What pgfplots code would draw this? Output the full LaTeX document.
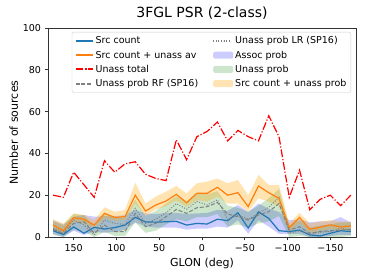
\documentclass[border=0pt]{standalone}
\usepackage{fontspec}
\setmainfont{DejaVu Sans}
\usepackage{pgfplots}
\pgfplotsset{compat=1.18}
\usepackage{pgfplotstable}
\usepgfplotslibrary{fillbetween}

\definecolor{mplblue}{HTML}{1F77B4}
\definecolor{mplorange}{HTML}{FF7F0E}
\definecolor{bandblue}{HTML}{0000FF}
\definecolor{bandgreen}{HTML}{008000}
\definecolor{bandorange}{HTML}{FFA500}
\definecolor{legframe}{HTML}{CCCCCC}

\pgfplotstableread{
x     red   ora   ou    ol    blue  bu    bl    dash  dot   gu    gl
174   20    5.7   8.5   3.5   3.0   8.0   1.5   3.7   4.2   7.5   1.0
162   19    3.0   6.5   1.4   1.2   6.0   0.0   1.8   2.6   5.5   0.0
150   31    9.2   11.3  7.3   4.8   9.7   3.0   6.5   8.1   11.0  3.5
138   25    8.5   10.5  6.5   1.8   10.5  1.0   7.3   5.7   10.5  2.5
126   19    5.7   8.1   4.1   4.6   9.7   2.5   1.8   1.0   5.0   0.0
114   36.5  11.3  14.2  8.9   3.8   10.0  2.0   5.7   8.1   11.0  2.5
102   31    9.4   12.1  7.8   4.5   10.0  2.5   2.6   6.5   9.5   0.5
90    35    9.7   12.9  8.1   5.7   10.5  3.5   2.6   6.0   9.0   0.5
78    36    20.0  26.0  16.0  9.4   13.0  7.0   11.3  13.7  18.0  7.0
66    30    12.4  16.0  10.0  7.2   11.3  5.0   4.9   6.5   10.0  2.0
54    28    15.3  19.3  13.2  7.1   11.0  4.5   6.5   8.5   12.5  3.0
42    27    17.2  21.7  14.8  7.3   11.5  4.5   9.7   11.6  16.0  6.0
30    46.5  20.4  24.4  17.4  7.5   11.5  4.5   13.2  16.0  19.5  8.5
18    37    16.4  20.9  14.5  5.7   11.0  3.5   11.3  13.3  17.0  7.5
6     48    20.9  25.7  17.7  6.5   11.3  4.0   14.0  17.0  21.0  9.5
-6    50.5  20.9  26.5  16.9  6.2   11.5  4.0   14.5  15.3  20.5  9.5
-18   55    23.8  28.0  19.3  8.5   13.0  5.0   16.5  17.8  22.0  11.0
-30   46    20.0  25.7  16.0  7.8   12.5  4.5   11.0  8.5   15.0  5.0
-42   51    21.2  27.3  16.0  11.6  15.3  8.0   9.7   10.5  14.0  6.0
-54   48    14.5  20.0  12.1  4.3   12.0  1.5   8.1   8.5   12.0  4.5
-66   46    24.4  29.7  18.5  12.0  16.0  8.0   10.5  11.3  15.0  6.5
-78   58    21.2  24.9  16.9  8.9   13.5  5.0   12.1  14.2  18.5  7.5
-90   48    18.5  24.9  14.5  3.0   12.0  1.5   16.0  19.0  23.0  10.0
-102  19    4.4   6.5   2.6   2.6   8.0   1.5   3.3   1.8   5.5   0.0
-114  32    9.4   11.6  6.5   3.3   8.5   1.5   4.9   3.0   8.0   0.5
-126  13    3.7   6.5   2.0   1.0   7.0   0.0   1.8   1.3   4.5   0.0
-138  18    4.7   7.3   3.0   0.5   7.5   0.0   2.6   2.2   5.5   0.0
-150  20    5.8   8.1   3.7   1.8   7.5   0.5   3.0   2.6   6.0   0.0
-162  15    4.8   7.3   3.3   3.0   9.5   1.0   3.3   4.2   7.0   0.0
-174  20    5.3   7.3   3.3   2.6   7.0   1.0   3.7   3.3   7.0   0.5
}\data

\begin{document}
\begin{tikzpicture}
\begin{axis}[
  set layers,
  scale only axis, width=308pt, height=209pt,
  xmin=-180, xmax=180, x dir=reverse, ymin=0, ymax=100,
  xtick={150,100,50,0,-50,-100,-150},
  xticklabels={150,100,50,0,−50,−100,−150},
  ytick={0,20,40,60,80,100},
  yticklabels={0,20,40,60,80,100},
  tick align=outside, tick pos=left,
  major tick length=3.5pt,
  tick style={black!80, line width=0.65pt},
  tick label style={font=\fontsize{9.5}{11}\selectfont},
  label style={font=\fontsize{11}{13}\selectfont},
  xlabel={GLON (deg)}, ylabel={Number of sources},
  ylabel style={yshift=-2pt},
  title={3FGL PSR (2-class)},
  title style={font=\fontsize{14}{16}\selectfont, yshift=-1pt},
  axis line style={black!80, line width=0.65pt},
  legend columns=2,
  legend style={at={(0.984,0.981)}, anchor=north east, draw=legframe,
    rounded corners=2pt, fill=white, font=\fontsize{9.5}{11}\selectfont,
    /tikz/every even column/.append style={column sep=12pt},
    row sep=1.5pt, inner sep=2.5pt},
  legend cell align=left,
  legend image post style={line width=2pt},
]
% boundaries of bands
\addplot[name path=bu, draw=none, forget plot] table[x=x,y=bu]{\data};
\addplot[name path=bl, draw=none, forget plot] table[x=x,y=bl]{\data};
\addplot[name path=gu, draw=none, forget plot] table[x=x,y=gu]{\data};
\addplot[name path=gl, draw=none, forget plot] table[x=x,y=gl]{\data};
\addplot[name path=ou, draw=none, forget plot] table[x=x,y=ou]{\data};
\addplot[name path=ol, draw=none, forget plot] table[x=x,y=ol]{\data};
% plots in legend order (row-wise)
\addplot[draw=mplblue, line width=1.2pt] table[x=x,y=blue]{\data};
\addlegendentry{Src count}
\addplot[draw=gray, line width=1pt, dash pattern=on 1pt off 1.6pt] table[x=x,y=dot]{\data};
\addlegendentry{Unass prob LR (SP16)}
\addplot[draw=mplorange, line width=1.2pt] table[x=x,y=ora]{\data};
\addlegendentry{Src count + unass av}
\addplot[fill=bandblue, fill opacity=0.2, draw=none,
  legend image code/.code={\fill[fill=bandblue] (0pt,-3.5pt) rectangle (20pt,3.5pt);}] fill between[of=bu and bl];
\addlegendentry{Assoc prob}
\addplot[draw=red, line width=1.2pt, dash pattern=on 7.8pt off 1.9pt on 1.2pt off 1.9pt] table[x=x,y=red]{\data};
\addlegendentry{Unass total}
\addplot[fill=bandgreen, fill opacity=0.2, draw=none,
  legend image code/.code={\fill[fill=bandgreen] (0pt,-3.5pt) rectangle (20pt,3.5pt);}] fill between[of=gu and gl];
\addlegendentry{Unass prob}
\addplot[draw=gray, line width=1pt, dash pattern=on 4pt off 1.8pt] table[x=x,y=dash]{\data};
\addlegendentry{Unass prob RF (SP16)}
\addplot[fill=bandorange, fill opacity=0.3, draw=none,
  legend image code/.code={\fill[fill=bandorange] (0pt,-3.5pt) rectangle (20pt,3.5pt);}] fill between[of=ou and ol];
\addlegendentry{Src count + unass prob}
\end{axis}
\pgfresetboundingbox
\path[use as bounding box] ([shift={(-48pt,-43pt)}]current axis.south west) rectangle ([shift={(18pt,28pt)}]current axis.north east);
\end{tikzpicture}
\end{document}
